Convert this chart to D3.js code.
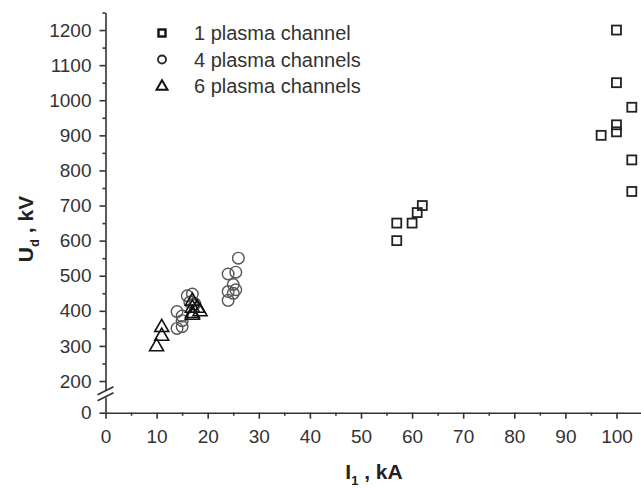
<!DOCTYPE html>
<html>
<head>
<meta charset="utf-8">
<script src="https://cdn.jsdelivr.net/npm/d3@7"></script>
<style>
  body { margin: 0; background: #fff; }
  svg { display: block; font-family: "Liberation Sans", Arial, sans-serif; }
  .axis path, .axis line { stroke: #333; stroke-width: 1.6; }
  .axis text { fill: #333; font-size: 19px; }
  .t_legend { fill: #333; font-size: 20px; }
  .t_title { fill: #222; font-size: 21px; font-weight: bold; }
</style>
</head>
<body>
<svg width="641" height="489"></svg>
<script>
/* ----------------------------------------------------------
data  [I1 kA, Ud kV]
---------------------------------------------------------- */

var channel1 = [
  [100, 1200], [100, 1050], [103, 980], [100, 930], [100, 910],
  [97, 900], [103, 830], [103, 740],
  [57, 650], [57, 600], [60, 650], [61, 680], [62, 700]
];
var channel4 = [
  [26, 550], [24, 505], [25.5, 510], [25, 475], [25.5, 460], [24, 455],
  [25, 450], [24, 430],
  [16, 443], [17, 448], [16.5, 425], [17.5, 420], [14, 398], [15, 385],
  [15, 372], [14, 350], [15, 355]
];
var channel6 = [
  [11, 355], [11, 330], [10, 300],
  [17, 430], [17, 410], [17, 395], [18.5, 400], [18, 410], [17, 390]
];

var legendLabels = ["1 plasma channel", "4 plasma channels", "6 plasma channels"];
var xMajor = [0, 10, 20, 30, 40, 50, 60, 70, 80, 90, 100];
var xMinor = [5, 15, 25, 35, 45, 55, 65, 75, 85, 95];
var yMajor = [200, 300, 400, 500, 600, 700, 800, 900, 1000, 1100, 1200];
var yMinor = [250, 350, 450, 550, 650, 750, 850, 950, 1050, 1150, 1250];
var yLowMajor = [0];

/* ----------------------------------------------------------
prepare
---------------------------------------------------------- */

var svg = d3.select("svg");
var fmt = d3.format("d");

var x = d3.scaleLinear().domain([0, 104.8]).range([105.5, 641]);
// broken y axis: upper part and the small piece near 0
var yUp = d3.scaleLinear().domain([175, 1250]).range([389.8, 12.5]);
var yLow = d3.scaleLinear().domain([0, 40]).range([412.7, 397]);

// x axis
svg.append("g").attr("class", "axis").attr("transform", "translate(0," + yLow(0) + ")")
  .call(d3.axisBottom(x).tickValues(xMajor).tickFormat(fmt).tickSize(6).tickSizeOuter(0).tickPadding(11));
svg.append("g").attr("class", "axis").attr("transform", "translate(0," + yLow(0) + ")")
  .call(d3.axisBottom(x).tickValues(xMinor).tickSize(3).tickFormat(""))
  .select(".domain").remove();

// y axis (upper)
svg.append("g").attr("class", "axis").attr("transform", "translate(" + x(0) + ",0)")
  .call(d3.axisLeft(yUp).tickValues(yMajor).tickFormat(fmt).tickSize(6).tickSizeOuter(0).tickPadding(8));
svg.append("g").attr("class", "axis").attr("transform", "translate(" + x(0) + ",0)")
  .call(d3.axisLeft(yUp).tickValues(yMinor).tickSize(3).tickFormat(""))
  .select(".domain").remove();

// y axis (lower)
svg.append("g").attr("class", "axis").attr("transform", "translate(" + x(0) + ",0)")
  .call(d3.axisLeft(yLow).tickValues(yLowMajor).tickFormat(fmt).tickSize(6).tickSizeOuter(0).tickPadding(8));

// break marks
var bx = x(0);
[yUp(175) + 1, yUp(175) + 7].forEach(function(by) {
  svg.append("line")
    .attr("x1", bx - 8).attr("y1", by + 4)
    .attr("x2", bx + 8).attr("y2", by - 4)
    .attr("stroke", "#333").attr("stroke-width", 1.6);
});

/* ----------------------------------------------------------
points
---------------------------------------------------------- */

function yv(v) { return v >= 175 ? yUp(v) : yLow(v); }

function triPath(cx, cy, w) {
  var h = w * 0.87;
  return "M" + cx + "," + (cy - h * 0.6) +
    "L" + (cx + w / 2) + "," + (cy + h * 0.4) +
    "L" + (cx - w / 2) + "," + (cy + h * 0.4) + "Z";
}

var gp = svg.append("g");

gp.selectAll(".c4").data(channel4).enter().append("circle")
  .attr("class", "c4")
  .attr("cx", d => x(d[0])).attr("cy", d => yv(d[1]))
  .attr("r", 5.8)
  .attr("fill", "none").attr("stroke", "#555").attr("stroke-width", 1.4);

gp.selectAll(".c6").data(channel6).enter().append("path")
  .attr("class", "c6")
  .attr("d", d => triPath(x(d[0]), yv(d[1]), 14))
  .attr("fill", "none").attr("stroke", "#111").attr("stroke-width", 1.6);

gp.selectAll(".c1").data(channel1).enter().append("rect")
  .attr("class", "c1")
  .attr("x", d => x(d[0]) - 4.5).attr("y", d => yv(d[1]) - 4.5)
  .attr("width", 9).attr("height", 9)
  .attr("fill", "none").attr("stroke", "#222").attr("stroke-width", 1.8);

/* ----------------------------------------------------------
legend
---------------------------------------------------------- */

var gl = svg.append("g").attr("transform", "translate(162,33)");
var rowH = 26.5;

gl.append("rect").attr("x", -3.5).attr("y", -3.5).attr("width", 7).attr("height", 7)
  .attr("fill", "none").attr("stroke", "#111").attr("stroke-width", 2.4);
gl.append("circle").attr("cx", 0).attr("cy", rowH).attr("r", 4)
  .attr("fill", "none").attr("stroke", "#222").attr("stroke-width", 1.8);
gl.append("path").attr("d", triPath(0, rowH * 2, 11))
  .attr("fill", "none").attr("stroke", "#111").attr("stroke-width", 2);

gl.selectAll(".t_legend").data(legendLabels).enter().append("text")
  .attr("class", "t_legend")
  .attr("x", 32).attr("y", (d, i) => i * rowH + 7)
  .text(d => d);

/* ----------------------------------------------------------
titles
---------------------------------------------------------- */

var tx = svg.append("text").attr("class", "t_title")
  .attr("x", 374).attr("y", 479).attr("text-anchor", "middle");
tx.append("tspan").text("I");
tx.append("tspan").attr("dy", 6).attr("font-size", "13px").text("1");
tx.append("tspan").attr("dy", -6).text(" , kA");

var ty = svg.append("text").attr("class", "t_title")
  .attr("transform", "translate(33,229) rotate(-90)")
  .attr("text-anchor", "middle");
ty.append("tspan").text("U");
ty.append("tspan").attr("dy", 6).attr("font-size", "13px").text("d");
ty.append("tspan").attr("dy", -6).text(" , kV");
</script>
</body>
</html>
